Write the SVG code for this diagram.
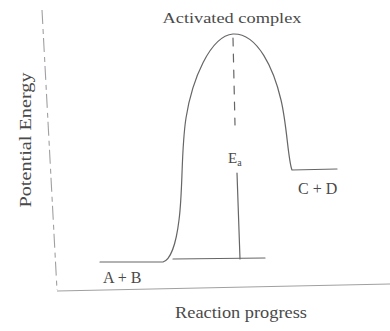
<svg xmlns="http://www.w3.org/2000/svg" width="390" height="331" viewBox="0 0 390 331">
<style>
text{font-family:"Liberation Serif","Times New Roman",serif;fill:#4a4a4a}
.ln{fill:none;stroke:#666;stroke-width:1.2;stroke-linecap:round}
.ax{fill:none;stroke:#a0a0a0;stroke-width:1.1}
</style>
<rect width="390" height="331" fill="#fff"/>
<g id="axes">
<path class="ax" d="M42,10 L57,290" stroke-dasharray="14,5,5,4"/>
<path class="ax" d="M57,291 L390,284" stroke-width="1.3" stroke="#666"/>
</g>
<g id="curve">
<path class="ln" d="M100,262 L163,262 C170,260 176,245 179,220 C183,190 181,150 186,118 C192,80 210,36 233,34 C258,33 274,70 281,100 C287,125 288,160 292,170 L337,169"/>
<path class="ln" d="M173,259 L265,258"/>
<path class="ln" d="M233,38 L235,125" stroke-dasharray="8,8" stroke="#999"/>
<path class="ln" d="M237,173 L240,259"/>
</g>
<g id="labels">
<text x="232" y="23" font-size="15" text-anchor="middle" textLength="139" lengthAdjust="spacingAndGlyphs">Activated complex</text>
<text transform="translate(31,140) rotate(-90)" font-size="16" text-anchor="middle" textLength="135" lengthAdjust="spacingAndGlyphs">Potential Energy</text>
<text x="241" y="318" font-size="16" text-anchor="middle" textLength="132" lengthAdjust="spacingAndGlyphs">Reaction progress</text>
<text x="228" y="163" font-size="15">E<tspan font-size="10" dy="3">a</tspan></text>
<text x="298" y="194" font-size="16">C + D</text>
<text x="103" y="283" font-size="16">A + B</text>
</g>
</svg>
